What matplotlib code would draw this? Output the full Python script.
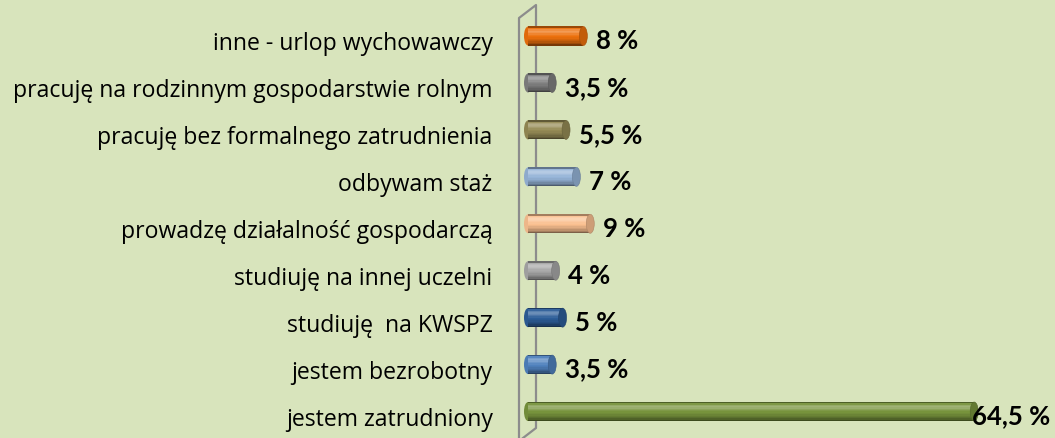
import matplotlib
matplotlib.use("Agg")
import matplotlib.pyplot as plt
import matplotlib.colors as mcolors
from matplotlib.patches import Ellipse
from matplotlib.lines import Line2D
from matplotlib.transforms import ScaledTranslation

# dane (od góry do dołu)
categories = ["inne - urlop wychowawczy",
              "pracuję na rodzinnym gospodarstwie rolnym",
              "pracuję bez formalnego zatrudnienia",
              "odbywam staż",
              "prowadzę działalność gospodarczą",
              "studiuję na innej uczelni",
              "studiuję  na KWSPZ",
              "jestem bezrobotny",
              "jestem zatrudniony"]
values = [8, 3.5, 5.5, 7, 9, 4, 5, 3.5, 64.5]
value_labels = ["8 %", "3,5 %", "5,5 %", "7 %", "9 %", "4 %", "5 %", "3,5 %", "64,5 %"]
colors = ["#ec700c", "#7f7f7f", "#948a54", "#95b3d7", "#fac090",
          "#a6a6a6", "#2c5d98", "#4f81bd", "#77933c"]

W, H = 1055, 438
bg = "#d8e4bc"
fig = plt.figure(figsize=(W / 100, H / 100), dpi=100, facecolor=bg)

x0_px = 528.0      # gdzie jest zero
sx = 6.918         # px na 1 %
ax_left = 519
ax = fig.add_axes([ax_left / W, 0, 1 - ax_left / W, 1])
ax.set_facecolor("none")
ax.set_xlim((ax_left - x0_px) / sx, (W - x0_px) / sx)
row0, step = 36.0, 46.94
ax.set_ylim((H - row0) / step, -row0 / step)
for s in ax.spines.values():
    s.set_visible(False)
ax.set_xticks([])


def shade(c, k):
    r, g, b = mcolors.to_rgb(c)
    if k >= 0:
        return (r + (1 - r) * k, g + (1 - g) * k, b + (1 - b) * k)
    return (r * (1 + k), g * (1 + k), b * (1 + k))


# cylindry 3D: paski poziome z cieniowaniem
h = 19 / step
profile = [-0.35, 0.05, 0.22, 0.3, 0.25, 0.15, 0.06, 0.0, -0.04, -0.1, -0.16, -0.24, -0.34, -0.5]
n = len(profile)
capw = 8 / sx
for i, (v, c) in enumerate(zip(values, colors)):
    ax.add_patch(Ellipse((0, i), capw, h, facecolor=shade(c, -0.05),
                         edgecolor="none", zorder=2))
    for j, k in enumerate(profile):
        y = i - h / 2 + (j + 0.5) * h / n
        ax.barh(y, v, height=h / n * 1.05, left=0, color=shade(c, k),
                linewidth=0, zorder=3)
    ax.add_patch(Ellipse((v, i), capw, h, facecolor=shade(c, -0.18),
                         edgecolor=shade(c, -0.3), lw=0.4, zorder=4))

# etykiety wartości
fig.canvas.draw()
renderer = fig.canvas.get_renderer()
for i, (v, t) in enumerate(zip(values, value_labels)):
    txt = ax.annotate(t, xy=(v, i), xytext=(9, -3.5), textcoords="offset points",
                      ha="left", va="center", fontsize=18.5, fontweight="bold",
                      family="Lato", color="black", zorder=6)
    bb = txt.get_window_extent(renderer)
    if bb.x1 > W - 3:
        txt.set_position((-(bb.x1 - (W - 5)) * 72 / 100 + 9, -3.5))

# etykiety kategorii
ax.set_yticks(range(len(categories)))
ax.set_yticklabels(categories, fontsize=16.6, family="Open Sans", color="black")
ax.tick_params(axis="y", length=0, pad=19)
off = ScaledTranslation(0, -5 / 100, fig.dpi_scale_trans)
for lbl in ax.get_yticklabels():
    lbl.set_transform(lbl.get_transform() + off)

# ściana wykresu (3D)
wall = "#8c8c8c"
def px_line(xs, ys):
    ax.add_line(Line2D([x / W for x in xs], [1 - y / H for y in ys],
                       transform=fig.transFigure, color=wall, lw=1.6,
                       clip_on=False, zorder=1))

px_line([519, 519, 536, 536, 523], [438, 18, 5, 428, 438])

fig.savefig("out.png", dpi=100, facecolor=bg)
